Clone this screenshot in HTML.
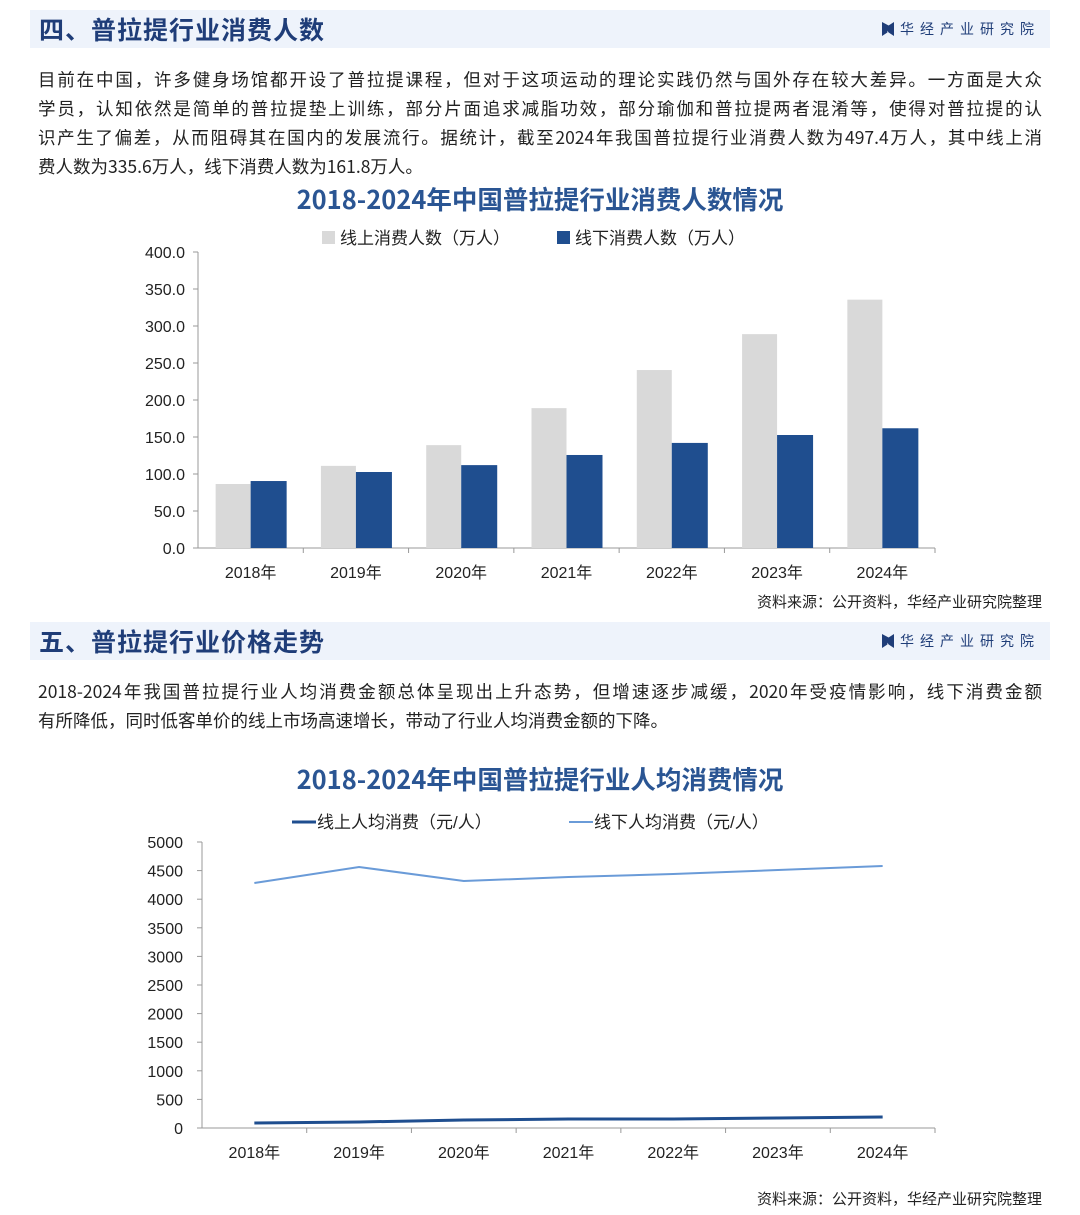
<!DOCTYPE html>
<html><head><meta charset="utf-8">
<style>
body{margin:0;width:1080px;height:1215px;background:#fff;font-family:"Liberation Sans","Noto Sans CJK SC",sans-serif;position:relative;overflow:hidden;color:#222}
.hdr{position:absolute;left:30px;width:1020px;height:38px;background:#eef3fb}
.hdr .t{position:absolute;left:9px;top:0px;font-size:25px;font-weight:bold;color:#1f3d78;letter-spacing:1px;font-family:"Noto Sans CJK SC",sans-serif;line-height:38px}
.hdr .logo{position:absolute;right:10px;top:10px;font-size:14px;color:#1f3d78;letter-spacing:6px;font-family:"Noto Sans CJK SC",sans-serif;line-height:18px}
.hdr .logo i{display:inline-block;width:12px;height:14px;background:#1f3d78;vertical-align:-2px;margin-right:6px;clip-path:polygon(0 0,45% 25%,45% 75%,0 100%,0 0,55% 25%,100% 0,100% 100%,55% 75%)}
.p{position:absolute;left:38px;width:1004px;font-size:17.5px;line-height:29px;color:#222;font-family:"Noto Sans CJK SC",sans-serif}
.p span{display:block;white-space:nowrap;text-align:justify;text-align-last:justify}
.p span.last{text-align-last:left}
.src{position:absolute;right:38px;font-size:15px;color:#222;font-family:"Noto Sans CJK SC",sans-serif;line-height:20px}
svg{position:absolute;left:0}
</style></head><body>
<div class="hdr" style="top:10px"><div class="t">四、普拉提行业消费人数</div><div class="logo"><i></i>华经产业研究院</div></div>
<div class="p" style="top:65px"><span>目前在中国，许多健身场馆都开设了普拉提课程，但对于这项运动的理论实践仍然与国外存在较大差异。一方面是大众</span><span>学员，认知依然是简单的普拉提垫上训练，部分片面追求减脂功效，部分瑜伽和普拉提两者混淆等，使得对普拉提的认</span><span>识产生了偏差，从而阻碍其在国内的发展流行。据统计，截至2024年我国普拉提行业消费人数为497.4万人，其中线上消</span><span class="last">费人数为335.6万人，线下消费人数为161.8万人。</span></div>
<svg id="c1" width="1080" height="400" style="top:180px"></svg>
<div class="src" style="top:592px">资料来源：公开资料，华经产业研究院整理</div>
<div class="hdr" style="top:622px"><div class="t">五、普拉提行业价格走势</div><div class="logo"><i></i>华经产业研究院</div></div>
<div class="p" style="top:677px"><span>2018-2024年我国普拉提行业人均消费金额总体呈现出上升态势，但增速逐步减缓，2020年受疫情影响，线下消费金额</span><span class="last">有所降低，同时低客单价的线上市场高速增长，带动了行业人均消费金额的下降。</span></div>
<svg id="c2" width="1080" height="420" style="top:760px"></svg>
<div class="src" style="top:1189px">资料来源：公开资料，华经产业研究院整理</div>
<script>
const categories=["2018年","2019年","2020年","2021年","2022年","2023年","2024年"];
const onlineCount=[86.5,111,139,189,240.5,289,335.6];
const offlineCount=[90.5,102.7,112,125.7,142,152.7,161.8];
const yTicks1=["0.0","50.0","100.0","150.0","200.0","250.0","300.0","350.0","400.0"];
const onlineSpend=[87,105,140,157,157,175,192];
const offlineSpend=[4283,4563,4318,4388,4440,4510,4580];
const yTicks2=["0","500","1000","1500","2000","2500","3000","3500","4000","4500","5000"];
const NS="http://www.w3.org/2000/svg";
function mk(svg,tag,attrs,text){const e=document.createElementNS(NS,tag);for(const k in attrs)e.setAttribute(k,attrs[k]);if(text!==undefined)e.textContent=text;svg.appendChild(e);return e;}
const F='"Liberation Sans","Noto Sans CJK SC",sans-serif';
const FT='"Noto Sans CJK SC",sans-serif';
(function(){
const s=document.getElementById('c1');
const x0=198,x1=935,yb=368,yt=72,max=400;
const bw=(x1-x0)/categories.length;
const y=v=>yb-(v/max)*(yb-yt);
let t=mk(s,'text',{x:540,y:29,'text-anchor':'middle','font-size':25.5,'font-weight':'bold',fill:'#2a5593','font-family':FT},'2018-2024年中国普拉提行业消费人数情况');

let r=mk(s,'rect',{x:322,y:51,width:13,height:13,fill:'#d9d9d9'});
t=mk(s,'text',{x:340,y:64,'font-size':17,fill:'#222','font-family':F},'线上消费人数（万人）');
r=mk(s,'rect',{x:557,y:51,width:13,height:13,fill:'#1f4e8f'});
t=mk(s,'text',{x:575,y:64,'font-size':17,fill:'#222','font-family':F},'线下消费人数（万人）');
yTicks1.forEach((lb,i)=>{const v=parseFloat(lb);const yy=y(v);
 let e=mk(s,'text',{x:185,y:yy+6,'text-anchor':'end','font-size':16,fill:'#222','font-family':F},lb);
 let l=mk(s,'line',{x1:193,x2:198,y1:yy,y2:yy,stroke:'#999'});});
let a=mk(s,'line',{x1:198,x2:198,y1:yt,y2:yb,stroke:'#999'});
a=mk(s,'line',{x1:x0,x2:x1,y1:yb,y2:yb,stroke:'#999'});
categories.forEach((c,i)=>{const cx=x0+bw*(i+0.5);
 let b=mk(s,'rect',{x:cx-35,y:y(onlineCount[i]),width:35,height:yb-y(onlineCount[i]),fill:'#d9d9d9'});
 b=mk(s,'rect',{x:cx,y:y(offlineCount[i]),width:36,height:yb-y(offlineCount[i]),fill:'#1f4e8f'});
 let l=mk(s,'line',{x1:x0+bw*(i+1),x2:x0+bw*(i+1),y1:yb,y2:yb+5,stroke:'#999'});
 let e=mk(s,'text',{x:cx,y:yb+30,'text-anchor':'middle','font-size':16,fill:'#222','font-family':F},c);});
})();
(function(){
const s=document.getElementById('c2');
const x0=202,x1=935,yb=368,yt=82,max=5000;
const bw=(x1-x0)/categories.length;
const y=v=>yb-(v/max)*(yb-yt);
let t=mk(s,'text',{x:540,y:29,'text-anchor':'middle','font-size':25.5,'font-weight':'bold',fill:'#2a5593','font-family':FT},'2018-2024年中国普拉提行业人均消费情况');

let l=mk(s,'line',{x1:292,x2:316,y1:62,y2:62,stroke:'#1f4e8f','stroke-width':3});
t=mk(s,'text',{x:317,y:68,'font-size':17,fill:'#222','font-family':F},'线上人均消费（元/人）');
l=mk(s,'line',{x1:569,x2:593,y1:62,y2:62,stroke:'#6a9bd8','stroke-width':2});
t=mk(s,'text',{x:594,y:68,'font-size':17,fill:'#222','font-family':F},'线下人均消费（元/人）');
yTicks2.forEach(lb=>{const yy=y(+lb);
 let e=mk(s,'text',{x:183,y:yy+6,'text-anchor':'end','font-size':16,fill:'#222','font-family':F},lb);
 let k=mk(s,'line',{x1:197,x2:202,y1:yy,y2:yy,stroke:'#999'});});
let a=mk(s,'line',{x1:x0,x2:x0,y1:yt,y2:yb,stroke:'#999'});
a=mk(s,'line',{x1:x0,x2:x1,y1:yb,y2:yb,stroke:'#999'});
const cx=i=>x0+bw*(i+0.5);
categories.forEach((c,i)=>{
 let k=mk(s,'line',{x1:x0+bw*(i+1),x2:x0+bw*(i+1),y1:yb,y2:yb+5,stroke:'#999'});
 let e=mk(s,'text',{x:cx(i),y:yb+30,'text-anchor':'middle','font-size':16,fill:'#222','font-family':F},c);});
let p=mk(s,'polyline',{points:offlineSpend.map((v,i)=>cx(i)+','+y(v)).join(' '),fill:'none',stroke:'#6a9bd8','stroke-width':2});
p=mk(s,'polyline',{points:onlineSpend.map((v,i)=>cx(i)+','+y(v)).join(' '),fill:'none',stroke:'#1f4e8f','stroke-width':3});
})();
</script>
</body></html>
